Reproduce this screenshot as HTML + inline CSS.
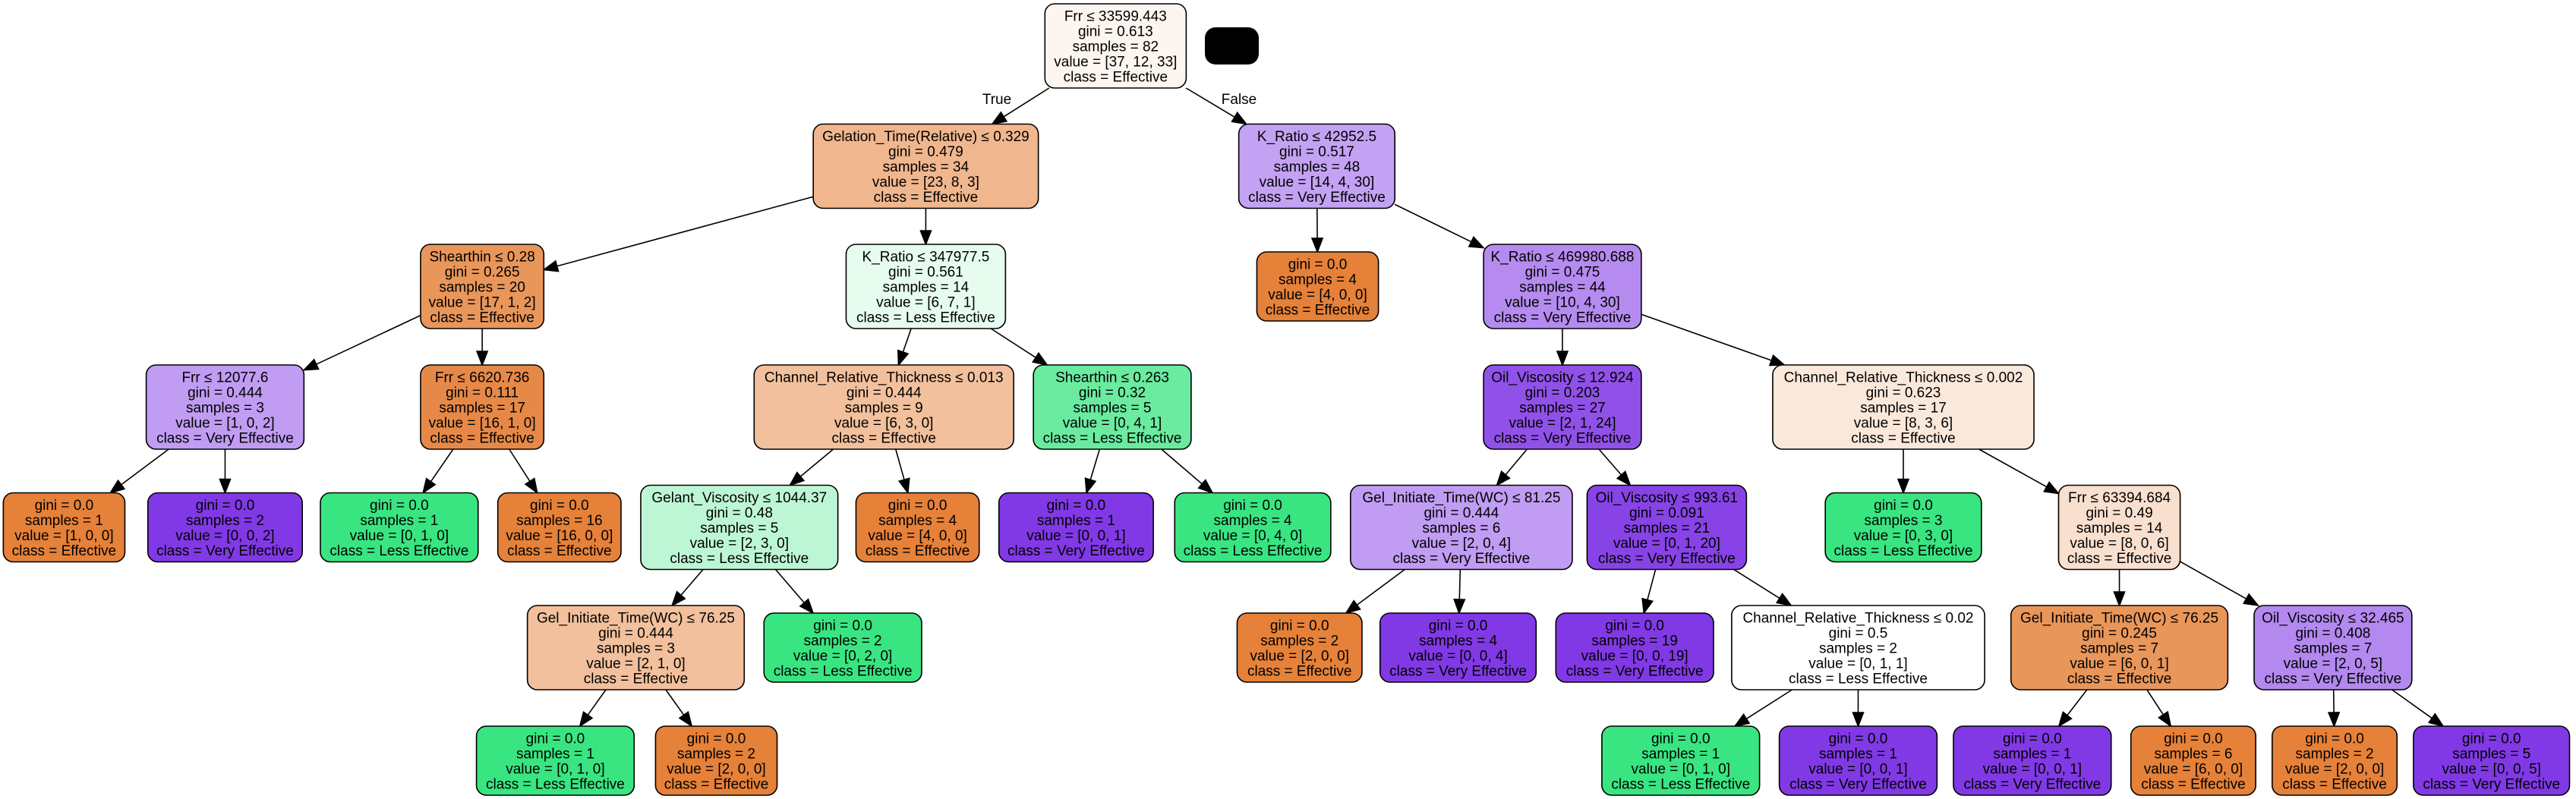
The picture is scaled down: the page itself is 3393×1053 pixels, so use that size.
<!DOCTYPE html>
<html><head><meta charset="utf-8"><style>
html,body{margin:0;padding:0;background:#fff;}
svg{display:block;}
text{font-family:"Liberation Sans",Arial,sans-serif;font-size:19px;fill:#000;}
</style></head><body>
<svg id="s" width="3393" height="1053" viewBox="0 0 3393 1053" xmlns="http://www.w3.org/2000/svg"></svg>
<script>
const K=2.164;
const CY=[60.5,219,377.5,536.5,695,853.5,1002.5];
const OR="#e58139",PU="#8139e5",GR="#39e581";
// id, level, x1(display), x2(display), color, lines, parent
const N=[
["r",0,636,722,"#fdf5ef",["Frr ≤ 33599.443","gini = 0.613","samples = 82","value = [37, 12, 33]","class = Effective"],null],
["a",1,495,632,"#f0b68d",["Gelation_Time(Relative) ≤ 0.329","gini = 0.479","samples = 34","value = [23, 8, 3]","class = Effective"],"r"],
["b",1,754,849,"#c4a2f3",["K_Ratio ≤ 42952.5","gini = 0.517","samples = 48","value = [14, 4, 30]","class = Very Effective"],"r"],
["a1",2,256,331,"#e9965a",["Shearthin ≤ 0.28","gini = 0.265","samples = 20","value = [17, 1, 2]","class = Effective"],"a"],
["a2",2,515,612,"#e6fcef",["K_Ratio ≤ 347977.5","gini = 0.561","samples = 14","value = [6, 7, 1]","class = Less Effective"],"a"],
["b1",2,765,839,OR,["gini = 0.0","samples = 4","value = [4, 0, 0]","class = Effective"],"b"],
["b2",2,903,999,"#b58bf0",["K_Ratio ≤ 469980.688","gini = 0.475","samples = 44","value = [10, 4, 30]","class = Very Effective"],"b"],
["c1",3,89,185,"#c09cf2",["Frr ≤ 12077.6","gini = 0.444","samples = 3","value = [1, 0, 2]","class = Very Effective"],"a1"],
["c2",3,256,331,"#e68948",["Frr ≤ 6620.736","gini = 0.111","samples = 17","value = [16, 1, 0]","class = Effective"],"a1"],
["c3",3,459,617,"#f2c09c",["Channel_Relative_Thickness ≤ 0.013","gini = 0.444","samples = 9","value = [6, 3, 0]","class = Effective"],"a2"],
["c4",3,629,725,"#6aeba0",["Shearthin ≤ 0.263","gini = 0.32","samples = 5","value = [0, 4, 1]","class = Less Effective"],"a2"],
["c5",3,903,999,"#9051e8",["Oil_Viscosity ≤ 12.924","gini = 0.203","samples = 27","value = [2, 1, 24]","class = Very Effective"],"b2"],
["c6",3,1079,1238,"#fae8db",["Channel_Relative_Thickness ≤ 0.002","gini = 0.623","samples = 17","value = [8, 3, 6]","class = Effective"],"b2"],
["d1",4,2,76,OR,["gini = 0.0","samples = 1","value = [1, 0, 0]","class = Effective"],"c1"],
["d2",4,90,184,PU,["gini = 0.0","samples = 2","value = [0, 0, 2]","class = Very Effective"],"c1"],
["d3",4,195,291,GR,["gini = 0.0","samples = 1","value = [0, 1, 0]","class = Less Effective"],"c2"],
["d4",4,303,378,OR,["gini = 0.0","samples = 16","value = [16, 0, 0]","class = Effective"],"c2"],
["d5",4,390,510,"#bdf6d4",["Gelant_Viscosity ≤ 1044.37","gini = 0.48","samples = 5","value = [2, 3, 0]","class = Less Effective"],"c3"],
["d6",4,521,596,OR,["gini = 0.0","samples = 4","value = [4, 0, 0]","class = Effective"],"c3"],
["d7",4,608,702,PU,["gini = 0.0","samples = 1","value = [0, 0, 1]","class = Very Effective"],"c4"],
["d8",4,715,810,GR,["gini = 0.0","samples = 4","value = [0, 4, 0]","class = Less Effective"],"c4"],
["d9",4,822,957,"#c09cf2",["Gel_Initiate_Time(WC) ≤ 81.25","gini = 0.444","samples = 6","value = [2, 0, 4]","class = Very Effective"],"c5"],
["d10",4,966,1063,"#8743e6",["Oil_Viscosity ≤ 993.61","gini = 0.091","samples = 21","value = [0, 1, 20]","class = Very Effective"],"c5"],
["d11",4,1111,1206,GR,["gini = 0.0","samples = 3","value = [0, 3, 0]","class = Less Effective"],"c6"],
["d12",4,1253,1327,"#f8dfce",["Frr ≤ 63394.684","gini = 0.49","samples = 14","value = [8, 0, 6]","class = Effective"],"c6"],
["e1",5,321,453,"#f2c09c",["Gel_Initiate_Time(WC) ≤ 76.25","gini = 0.444","samples = 3","value = [2, 1, 0]","class = Effective"],"d5"],
["e2",5,465,561,GR,["gini = 0.0","samples = 2","value = [0, 2, 0]","class = Less Effective"],"d5"],
["e3",5,753,829,OR,["gini = 0.0","samples = 2","value = [2, 0, 0]","class = Effective"],"d9"],
["e4",5,840,935,PU,["gini = 0.0","samples = 4","value = [0, 0, 4]","class = Very Effective"],"d9"],
["e5",5,947,1043,PU,["gini = 0.0","samples = 19","value = [0, 0, 19]","class = Very Effective"],"d10"],
["e6",5,1054,1208,"#ffffff",["Channel_Relative_Thickness ≤ 0.02","gini = 0.5","samples = 2","value = [0, 1, 1]","class = Less Effective"],"d10"],
["e7",5,1224,1356,"#e9965a",["Gel_Initiate_Time(WC) ≤ 76.25","gini = 0.245","samples = 7","value = [6, 0, 1]","class = Effective"],"d12"],
["e8",5,1372,1468,"#b388ef",["Oil_Viscosity ≤ 32.465","gini = 0.408","samples = 7","value = [2, 0, 5]","class = Very Effective"],"d12"],
["f1",6,290,386,GR,["gini = 0.0","samples = 1","value = [0, 1, 0]","class = Less Effective"],"e1"],
["f2",6,399,473,OR,["gini = 0.0","samples = 2","value = [2, 0, 0]","class = Effective"],"e1"],
["f3",6,975,1071,GR,["gini = 0.0","samples = 1","value = [0, 1, 0]","class = Less Effective"],"e6"],
["f4",6,1083,1179,PU,["gini = 0.0","samples = 1","value = [0, 0, 1]","class = Very Effective"],"e6"],
["f5",6,1189,1285,PU,["gini = 0.0","samples = 1","value = [0, 0, 1]","class = Very Effective"],"e7"],
["f6",6,1297,1373,OR,["gini = 0.0","samples = 6","value = [6, 0, 0]","class = Effective"],"e7"],
["f7",6,1383,1459,OR,["gini = 0.0","samples = 2","value = [2, 0, 0]","class = Effective"],"e8"],
["f8",6,1469,1564,PU,["gini = 0.0","samples = 5","value = [0, 0, 5]","class = Very Effective"],"e8"]
];
const M={};let out="";
for(const n of N){
  const x1=n[2]*K,x2=n[3]*K,h=n[5].length==5?111:91,cy=CY[n[1]];
  M[n[0]]={x1,x2,y1:cy-h/2,y2:cy+h/2,cx:(x1+x2)/2,cy};
}
function clip(b,dx,dy){ // from center along (dx,dy) to boundary
  const hw=(b.x2-b.x1)/2,hh=(b.y2-b.y1)/2;
  let t=Infinity;
  if(dx!==0)t=Math.min(t,hw/Math.abs(dx));
  if(dy!==0)t=Math.min(t,hh/Math.abs(dy));
  return [b.cx+dx*t,b.cy+dy*t];
}
let edges="";
for(const n of N){
  if(!n[6])continue;
  const p=M[n[6]],c=M[n[0]];
  const dx=c.cx-p.cx,dy=c.cy-p.cy;
  const s=clip(p,dx,dy),e=clip(c,-dx,-dy);
  const L=Math.hypot(e[0]-s[0],e[1]-s[1]),ux=(e[0]-s[0])/L,uy=(e[1]-s[1])/L;
  const al=18,aw=7;
  const bx=e[0]-ux*al,by=e[1]-uy*al;
  edges+=`<line x1="${s[0]}" y1="${s[1]}" x2="${bx}" y2="${by}" stroke="#000" stroke-width="1.6"/>`;
  edges+=`<polygon points="${e[0]},${e[1]} ${bx-uy*aw},${by+ux*aw} ${bx+uy*aw},${by-ux*aw}" fill="#000" stroke="#000" stroke-width="1.6"/>`;
}
out+=edges;
for(const n of N){
  const b=M[n[0]];
  out+=`<rect x="${b.x1}" y="${b.y1}" width="${b.x2-b.x1}" height="${b.y2-b.y1}" rx="13" ry="13" fill="${n[4]}" stroke="#000" stroke-width="1.6"/>`;
  const L=n[5],k=L.length;
  L.forEach((t,i)=>{
    const y=b.cy+(i-(k-1)/2)*20+7;
    out+=`<text x="${b.cx}" y="${y}" text-anchor="middle">${t}</text>`;
  });
}
out+=`<rect x="1587" y="36" width="71" height="49" rx="14" ry="14" fill="#000"/>`;
out+=`<text x="1313" y="137" text-anchor="middle">True</text>`;
out+=`<text x="1632" y="137" text-anchor="middle">False</text>`;
document.getElementById("s").innerHTML=out;
</script>
</body></html>
